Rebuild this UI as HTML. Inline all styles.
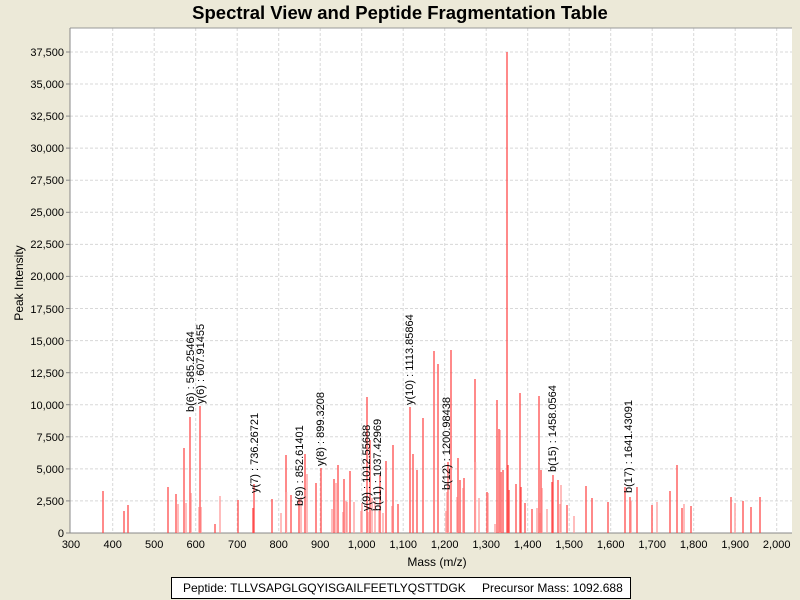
<!DOCTYPE html>
<html><head><meta charset="utf-8"><style>
body{margin:0;background:#ECE9D8;}
svg{display:block;font-family:"Liberation Sans",sans-serif;}
</style></head><body>
<svg width="800" height="600" xmlns="http://www.w3.org/2000/svg">
<rect width="800" height="600" fill="#ECE9D8"/>
<text x="400" y="19" text-anchor="middle" font-size="18.5" font-weight="bold">Spectral View and Peptide Fragmentation Table</text>
<rect x="70" y="28" width="722" height="505" fill="#fff"/>
<g stroke="#d8d8d8" stroke-dasharray="3,2" stroke-width="1">
<line x1="112.7" y1="28" x2="112.7" y2="533"/><line x1="154.2" y1="28" x2="154.2" y2="533"/><line x1="195.7" y1="28" x2="195.7" y2="533"/><line x1="237.2" y1="28" x2="237.2" y2="533"/><line x1="278.7" y1="28" x2="278.7" y2="533"/><line x1="320.2" y1="28" x2="320.2" y2="533"/><line x1="361.7" y1="28" x2="361.7" y2="533"/><line x1="403.2" y1="28" x2="403.2" y2="533"/><line x1="444.7" y1="28" x2="444.7" y2="533"/><line x1="486.2" y1="28" x2="486.2" y2="533"/><line x1="527.7" y1="28" x2="527.7" y2="533"/><line x1="569.2" y1="28" x2="569.2" y2="533"/><line x1="610.7" y1="28" x2="610.7" y2="533"/><line x1="652.2" y1="28" x2="652.2" y2="533"/><line x1="693.7" y1="28" x2="693.7" y2="533"/><line x1="735.2" y1="28" x2="735.2" y2="533"/><line x1="776.7" y1="28" x2="776.7" y2="533"/>
<line x1="70" y1="500.9" x2="792" y2="500.9"/><line x1="70" y1="468.9" x2="792" y2="468.9"/><line x1="70" y1="436.8" x2="792" y2="436.8"/><line x1="70" y1="404.7" x2="792" y2="404.7"/><line x1="70" y1="372.7" x2="792" y2="372.7"/><line x1="70" y1="340.6" x2="792" y2="340.6"/><line x1="70" y1="308.5" x2="792" y2="308.5"/><line x1="70" y1="276.4" x2="792" y2="276.4"/><line x1="70" y1="244.4" x2="792" y2="244.4"/><line x1="70" y1="212.3" x2="792" y2="212.3"/><line x1="70" y1="180.2" x2="792" y2="180.2"/><line x1="70" y1="148.1" x2="792" y2="148.1"/><line x1="70" y1="116.1" x2="792" y2="116.1"/><line x1="70" y1="84" x2="792" y2="84"/><line x1="70" y1="52" x2="792" y2="52"/>
</g>
<line x1="70" y1="28" x2="792" y2="28" stroke="#999"/>
<line x1="70" y1="28" x2="70" y2="533" stroke="#888"/>
<line x1="70" y1="533" x2="792" y2="533" stroke="#888"/>
<g stroke="#ff4c4c" stroke-width="1.3">
<line x1="103" y1="533" x2="103" y2="491"/><line x1="124" y1="533" x2="124" y2="511"/><line x1="128" y1="533" x2="128" y2="505"/><line x1="168" y1="533" x2="168" y2="487"/><line x1="176" y1="533" x2="176" y2="494"/><line x1="184" y1="533" x2="184" y2="448"/><line x1="190" y1="533" x2="190" y2="417"/><line x1="200" y1="533" x2="200" y2="406"/><line x1="215" y1="533" x2="215" y2="524"/><line x1="238" y1="533" x2="238" y2="500"/><line x1="253" y1="533" x2="253" y2="508"/><line x1="254" y1="533" x2="254" y2="484"/><line x1="272" y1="533" x2="272" y2="499"/><line x1="286" y1="533" x2="286" y2="455"/><line x1="291" y1="533" x2="291" y2="495"/><line x1="299" y1="533" x2="299" y2="499"/><line x1="305" y1="533" x2="305" y2="454"/><line x1="316" y1="533" x2="316" y2="483"/><line x1="321" y1="533" x2="321" y2="468"/><line x1="334" y1="533" x2="334" y2="479"/><line x1="338" y1="533" x2="338" y2="465"/><line x1="344" y1="533" x2="344" y2="479"/><line x1="350" y1="533" x2="350" y2="471"/><line x1="367" y1="533" x2="367" y2="397"/><line x1="370" y1="533" x2="370" y2="440"/><line x1="380" y1="533" x2="380" y2="475"/><line x1="386" y1="533" x2="386" y2="461"/><line x1="393" y1="533" x2="393" y2="445"/><line x1="398" y1="533" x2="398" y2="504"/><line x1="410" y1="533" x2="410" y2="407"/><line x1="413" y1="533" x2="413" y2="454"/><line x1="417" y1="533" x2="417" y2="470"/><line x1="423" y1="533" x2="423" y2="418"/><line x1="434" y1="533" x2="434" y2="351"/><line x1="438" y1="533" x2="438" y2="364"/><line x1="448" y1="533" x2="448" y2="462"/><line x1="451" y1="533" x2="451" y2="350"/><line x1="458" y1="533" x2="458" y2="458"/><line x1="460" y1="533" x2="460" y2="480"/><line x1="464" y1="533" x2="464" y2="478"/><line x1="475" y1="533" x2="475" y2="379"/><line x1="487" y1="533" x2="487" y2="492"/><line x1="497" y1="533" x2="497" y2="400"/><line x1="499" y1="533" x2="499" y2="429"/><line x1="501" y1="533" x2="501" y2="472"/><line x1="503" y1="533" x2="503" y2="470"/><line x1="507" y1="533" x2="507" y2="52"/><line x1="508" y1="533" x2="508" y2="465"/><line x1="509" y1="533" x2="509" y2="490"/><line x1="516" y1="533" x2="516" y2="484"/><line x1="520" y1="533" x2="520" y2="393"/><line x1="521" y1="533" x2="521" y2="487"/><line x1="525" y1="533" x2="525" y2="503"/><line x1="532" y1="533" x2="532" y2="509"/><line x1="539" y1="533" x2="539" y2="396"/><line x1="541" y1="533" x2="541" y2="470"/><line x1="552" y1="533" x2="552" y2="482"/><line x1="553" y1="533" x2="553" y2="475"/><line x1="558" y1="533" x2="558" y2="480"/><line x1="567" y1="533" x2="567" y2="505"/><line x1="586" y1="533" x2="586" y2="486"/><line x1="592" y1="533" x2="592" y2="498"/><line x1="608" y1="533" x2="608" y2="502"/><line x1="625" y1="533" x2="625" y2="487"/><line x1="630" y1="533" x2="630" y2="497"/><line x1="637" y1="533" x2="637" y2="487"/><line x1="652" y1="533" x2="652" y2="505"/><line x1="670" y1="533" x2="670" y2="491"/><line x1="677" y1="533" x2="677" y2="465"/><line x1="682" y1="533" x2="682" y2="508"/><line x1="691" y1="533" x2="691" y2="506"/><line x1="731" y1="533" x2="731" y2="497"/><line x1="743" y1="533" x2="743" y2="501"/><line x1="751" y1="533" x2="751" y2="507"/><line x1="760" y1="533" x2="760" y2="497"/>
</g>
<g stroke="#ff9999" stroke-width="1.3">
<line x1="178" y1="533" x2="178" y2="504"/><line x1="186" y1="533" x2="186" y2="503"/><line x1="191" y1="533" x2="191" y2="493"/><line x1="199" y1="533" x2="199" y2="507"/><line x1="201" y1="533" x2="201" y2="507"/><line x1="220" y1="533" x2="220" y2="496"/><line x1="281" y1="533" x2="281" y2="513"/><line x1="286.5" y1="533" x2="286.5" y2="492"/><line x1="301" y1="533" x2="301" y2="497"/><line x1="307" y1="533" x2="307" y2="474"/><line x1="332" y1="533" x2="332" y2="509"/><line x1="336" y1="533" x2="336" y2="483"/><line x1="343" y1="533" x2="343" y2="512"/><line x1="346" y1="533" x2="346" y2="501"/><line x1="347" y1="533" x2="347" y2="502"/><line x1="354" y1="533" x2="354" y2="502"/><line x1="361" y1="533" x2="361" y2="511"/><line x1="362" y1="533" x2="362" y2="503"/><line x1="368" y1="533" x2="368" y2="512"/><line x1="372" y1="533" x2="372" y2="498"/><line x1="375" y1="533" x2="375" y2="501"/><line x1="379" y1="533" x2="379" y2="511"/><line x1="383" y1="533" x2="383" y2="513"/><line x1="392" y1="533" x2="392" y2="506"/><line x1="446" y1="533" x2="446" y2="511"/><line x1="447" y1="533" x2="447" y2="492"/><line x1="448.5" y1="533" x2="448.5" y2="473"/><line x1="457" y1="533" x2="457" y2="497"/><line x1="463" y1="533" x2="463" y2="488"/><line x1="475.5" y1="533" x2="475.5" y2="462"/><line x1="479" y1="533" x2="479" y2="498"/><line x1="488" y1="533" x2="488" y2="493"/><line x1="495" y1="533" x2="495" y2="524"/><line x1="500" y1="533" x2="500" y2="430"/><line x1="537" y1="533" x2="537" y2="508"/><line x1="540" y1="533" x2="540" y2="513"/><line x1="542" y1="533" x2="542" y2="488"/><line x1="547" y1="533" x2="547" y2="509"/><line x1="560" y1="533" x2="560" y2="504"/><line x1="561" y1="533" x2="561" y2="485"/><line x1="574" y1="533" x2="574" y2="516"/><line x1="631" y1="533" x2="631" y2="501"/><line x1="657" y1="533" x2="657" y2="502"/><line x1="684" y1="533" x2="684" y2="504"/><line x1="735" y1="533" x2="735" y2="503"/>
</g>
<g font-size="11" fill="#000">
<text transform="translate(194,412) rotate(-90)">b(6) : 585.25464</text>
<text transform="translate(204,404) rotate(-90)">y(6) : 607.91455</text>
<text transform="translate(258,493) rotate(-90)">y(7) : 736.26721</text>
<text transform="translate(303,506) rotate(-90)">b(9) : 852.61401</text>
<text transform="translate(324,466) rotate(-90)">y(8) : 899.3208</text>
<text transform="translate(370,511) rotate(-90)">y(9) : 1012.55688</text>
<text transform="translate(381,511) rotate(-90)">b(11) : 1037.42969</text>
<text transform="translate(413,405) rotate(-90)">y(10) : 1113.85864</text>
<text transform="translate(450,490) rotate(-90)">b(12) : 1200.98438</text>
<text transform="translate(556,472) rotate(-90)">b(15) : 1458.0564</text>
<text transform="translate(632,493) rotate(-90)">b(17) : 1641.43091</text>
</g>
<g font-size="11" text-anchor="end">
<text x="64" y="537">0</text><text x="64" y="505">2,500</text><text x="64" y="473">5,000</text><text x="64" y="441">7,500</text><text x="64" y="409">10,000</text><text x="64" y="377">12,500</text><text x="64" y="345">15,000</text><text x="64" y="313">17,500</text><text x="64" y="280">20,000</text><text x="64" y="248">22,500</text><text x="64" y="216">25,000</text><text x="64" y="184">27,500</text><text x="64" y="152">30,000</text><text x="64" y="120">32,500</text><text x="64" y="88">35,000</text><text x="64" y="56">37,500</text>
</g>
<g stroke="#888"><line x1="66" y1="533" x2="70" y2="533"/><line x1="66" y1="500.9" x2="70" y2="500.9"/><line x1="66" y1="468.9" x2="70" y2="468.9"/><line x1="66" y1="436.8" x2="70" y2="436.8"/><line x1="66" y1="404.7" x2="70" y2="404.7"/><line x1="66" y1="372.7" x2="70" y2="372.7"/><line x1="66" y1="340.6" x2="70" y2="340.6"/><line x1="66" y1="308.5" x2="70" y2="308.5"/><line x1="66" y1="276.4" x2="70" y2="276.4"/><line x1="66" y1="244.4" x2="70" y2="244.4"/><line x1="66" y1="212.3" x2="70" y2="212.3"/><line x1="66" y1="180.2" x2="70" y2="180.2"/><line x1="66" y1="148.1" x2="70" y2="148.1"/><line x1="66" y1="116.1" x2="70" y2="116.1"/><line x1="66" y1="84" x2="70" y2="84"/><line x1="66" y1="52" x2="70" y2="52"/></g>
<g font-size="11" text-anchor="middle">
<text x="71" y="548">300</text><text x="112.7" y="548">400</text><text x="154.2" y="548">500</text><text x="195.7" y="548">600</text><text x="237.2" y="548">700</text><text x="278.7" y="548">800</text><text x="320.2" y="548">900</text><text x="361.7" y="548">1,000</text><text x="403.2" y="548">1,100</text><text x="444.7" y="548">1,200</text><text x="486.2" y="548">1,300</text><text x="527.7" y="548">1,400</text><text x="569.2" y="548">1,500</text><text x="610.7" y="548">1,600</text><text x="652.2" y="548">1,700</text><text x="693.7" y="548">1,800</text><text x="735.2" y="548">1,900</text><text x="776.7" y="548">2,000</text>
</g>
<text x="437" y="566" font-size="12" text-anchor="middle">Mass (m/z)</text>
<text transform="translate(23,283) rotate(-90)" font-size="12" text-anchor="middle">Peak Intensity</text>
<rect x="171.5" y="577.5" width="459" height="21" fill="#fff" stroke="#000"/>
<text x="183" y="592" font-size="12">Peptide: TLLVSAPGLGQYISGAILFEETLYQSTTDGK</text>
<text x="482" y="592" font-size="12">Precursor Mass: 1092.688</text>
</svg>
</body></html>
